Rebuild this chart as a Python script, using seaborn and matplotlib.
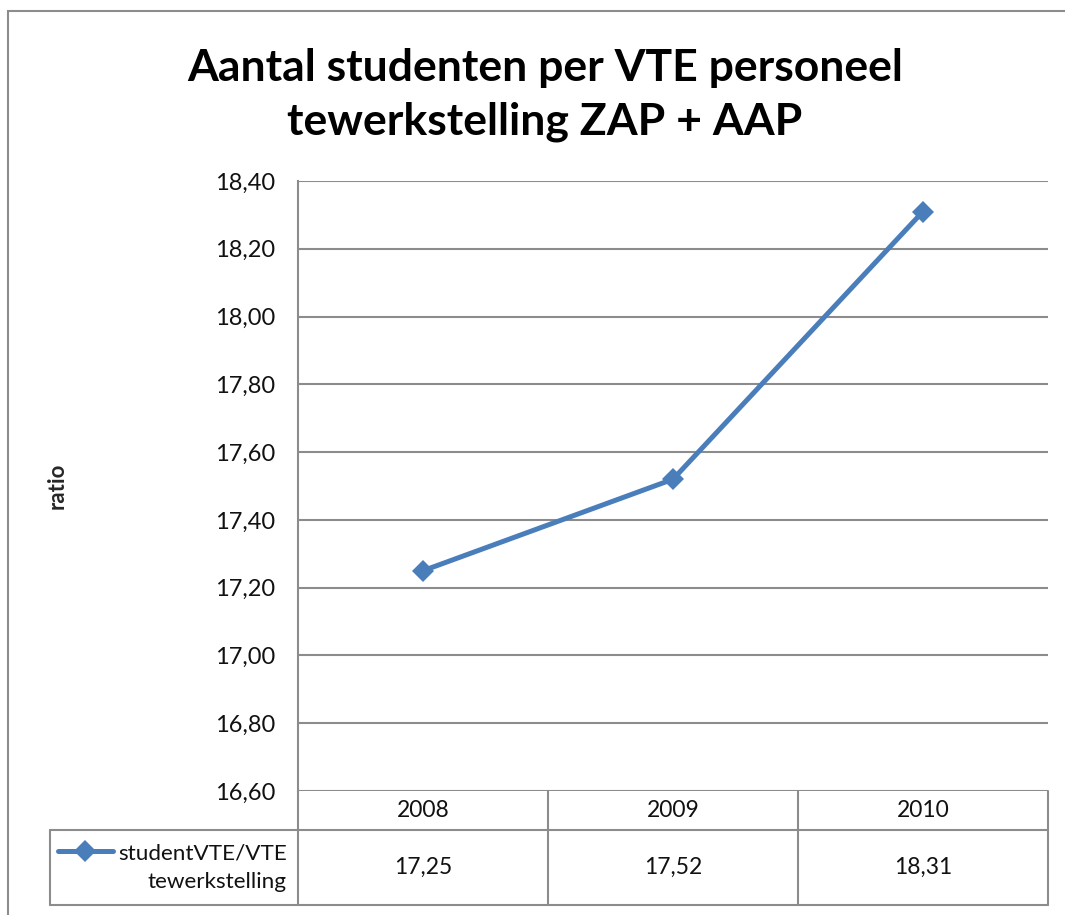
import matplotlib
matplotlib.use("Agg")
import matplotlib.pyplot as plt
import matplotlib.ticker as mticker
from matplotlib.patches import Rectangle
import seaborn as sns

years = ["2008", "2009", "2010"]
ratios = [17.25, 17.52, 18.31]
ratio_labels = ["17,25", "17,52", "18,31"]
series_name = "studentVTE/VTE\ntewerkstelling"
title = "Aantal studenten per VTE personeel\ntewerkstelling ZAP + AAP"
y_ticks = [16.6, 16.8, 17.0, 17.2, 17.4, 17.6, 17.8, 18.0, 18.2, 18.4]

sns.set_theme(style="white")
plt.rcParams["font.family"] = ["Lato", "DejaVu Sans"]

W, H = 1065, 915
GRID = "#8c8c8c"
BLUE = "#4a7ebb"
TXT = "#111111"

fig = plt.figure(figsize=(W / 100, H / 100), dpi=100)
fig.patch.set_facecolor("white")

# outer chart border (cut off at right and bottom)
fig.patches.append(Rectangle((8 / W, -0.05), 1.1, 1 - 11 / H + 0.05,
                             transform=fig.transFigure, fill=False,
                             edgecolor=GRID, lw=1.5))

ax = fig.add_axes([298 / W, 1 - 791 / H, 750 / W, 610 / H])
x_pos = list(range(len(years)))
sns.lineplot(x=x_pos, y=ratios, ax=ax, color=BLUE, lw=3.6, marker="D",
             markersize=11, markeredgewidth=0, zorder=5)

ax.set_xlim(-0.5, len(years) - 0.5)
ax.set_ylim(y_ticks[0], y_ticks[-1])
ax.set_yticks(y_ticks)
ax.yaxis.set_major_formatter(mticker.FuncFormatter(lambda v, p: f"{v:.2f}".replace(".", ",")))
ax.tick_params(axis="y", length=0, pad=16.5, labelsize=17, labelcolor=TXT)
ax.set_xticks([])
ax.grid(axis="y", color=GRID, lw=1.5)
for s in ["top", "right", "bottom"]:
    ax.spines[s].set_visible(False)
ax.spines["left"].set_color(GRID)
ax.spines["left"].set_linewidth(1.5)
ax.set_ylabel("ratio", fontsize=16, fontweight="bold", labelpad=0)
ax.yaxis.set_label_coords((68 - 298) / 750, 0.5)

fig.text(545 / W, 1 - 95 / H, title, ha="center", va="center",
         fontsize=32, fontweight="bold", linespacing=1.42, color="black")

# data table below the axis
tr = ax.get_xaxis_transform()
px = 610.0
r1 = -39 / px
r2 = -114 / px
left = -0.5 - 248 / 250
kw = dict(transform=tr, color=GRID, lw=1.5, clip_on=False, zorder=1)
ax.plot([left, 2.5], [r1, r1], **kw)
ax.plot([left, 2.5], [r2, r2], **kw)
ax.plot([-0.5, -0.5], [0, r2], **kw)
ax.plot([left, left], [r1, r2], **kw)
for i in range(len(years)):
    ax.plot([i + 0.5, i + 0.5], [0, r2], **kw)
    ax.text(i, r1 / 2, years[i], transform=tr, ha="center", va="center",
            fontsize=16.5, color=TXT)
    ax.text(i, (r1 + r2) / 2, ratio_labels[i], transform=tr, ha="center",
            va="center", fontsize=16.5, color=TXT)

# legend key in the table
ky = r1 - 21 / px
ax.plot([left + 8 / 250, left + 63 / 250], [ky, ky], transform=tr, color=BLUE,
        lw=3.6, clip_on=False, solid_capstyle="round")
ax.plot([left + 35 / 250], [ky], transform=tr, color=BLUE, marker="D",
        markersize=11, markeredgewidth=0, clip_on=False)
ax.text(-0.5 - 11 / 250, (r1 + r2) / 2, series_name, transform=tr, ha="right",
        va="center", fontsize=16.2, color=TXT, linespacing=1.5)

fig.savefig("out.png", dpi=100)
